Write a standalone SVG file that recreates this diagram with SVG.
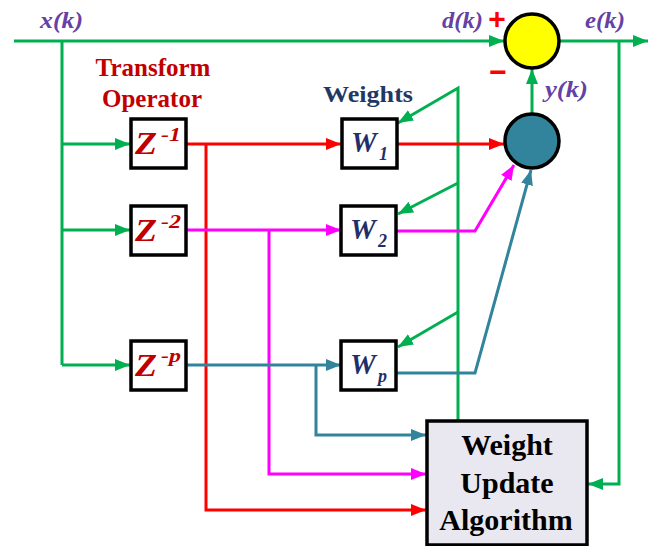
<svg xmlns="http://www.w3.org/2000/svg" width="656" height="546" viewBox="0 0 656 546">
<defs>
<style>
.g{stroke:#00B050;stroke-width:3;fill:none}
.r{stroke:#FF0000;stroke-width:3;fill:none}
.m{stroke:#FF00FF;stroke-width:3;fill:none}
.t{stroke:#31849B;stroke-width:3;fill:none}
.box{fill:#FFFFFF;stroke:#000000;stroke-width:3.5}
.sig{font-family:"Liberation Serif",serif;font-style:italic;font-weight:bold;font-size:23px;fill:#6441A5}
.zl{font-family:"Liberation Serif",serif;font-style:italic;font-weight:bold;fill:#C00000}
.wl{font-family:"Liberation Serif",serif;font-style:italic;font-weight:bold;fill:#1F2F6B}
.lbl{font-family:"Liberation Serif",serif;font-weight:bold}
</style>
<marker id="ag" viewBox="0 0 15 12" refX="15" refY="6" markerWidth="15" markerHeight="12" markerUnits="userSpaceOnUse" orient="auto"><path d="M0,0 L15,6 L0,12 z" fill="#00B050"/></marker>
<marker id="ar" viewBox="0 0 15 12" refX="15" refY="6" markerWidth="15" markerHeight="12" markerUnits="userSpaceOnUse" orient="auto"><path d="M0,0 L15,6 L0,12 z" fill="#FF0000"/></marker>
<marker id="am" viewBox="0 0 15 12" refX="15" refY="6" markerWidth="15" markerHeight="12" markerUnits="userSpaceOnUse" orient="auto"><path d="M0,0 L15,6 L0,12 z" fill="#FF00FF"/></marker>
<marker id="at" viewBox="0 0 15 12" refX="15" refY="6" markerWidth="15" markerHeight="12" markerUnits="userSpaceOnUse" orient="auto"><path d="M0,0 L15,6 L0,12 z" fill="#31849B"/></marker>
</defs>
<rect width="656" height="546" fill="#FFFFFF"/>

<g id="connectors">
<path class="g" d="M14,41 H504" marker-end="url(#ag)"/>
<path class="g" d="M62,41 V365"/>
<path class="g" d="M62,144 H130" marker-end="url(#ag)"/>
<path class="g" d="M62,230 H130" marker-end="url(#ag)"/>
<path class="g" d="M62,365 H130" marker-end="url(#ag)"/>
<path class="g" d="M559,41 H648" marker-end="url(#ag)"/>
<path class="g" d="M619,41 V484 H588" marker-end="url(#ag)"/>
<path class="g" d="M532,114 V69" marker-end="url(#ag)"/>
<path class="g" d="M458,421 V88 L398,123" marker-end="url(#ag)"/>
<path class="g" d="M458,183 L398,214" marker-end="url(#ag)"/>
<path class="g" d="M458,312 L398,347" marker-end="url(#ag)"/>
<path class="r" d="M187,144 H341" marker-end="url(#ar)"/>
<path class="r" d="M206,144 V510 H426" marker-end="url(#ar)"/>
<path class="r" d="M397,144 H504" marker-end="url(#ar)"/>
<path class="m" d="M187,230 H341" marker-end="url(#am)"/>
<path class="m" d="M269,230 V474 H426" marker-end="url(#am)"/>
<path class="m" d="M396,231 H475 L514,165" marker-end="url(#am)"/>
<path class="t" d="M187,365 H341" marker-end="url(#at)"/>
<path class="t" d="M316,365 V435 H426" marker-end="url(#at)"/>
<path class="t" d="M396,373 H475 L531,170" marker-end="url(#at)"/>
</g>

<g id="z1">
<rect class="box" x="131" y="119" width="55" height="49"/>
<text class="zl" x="135" y="154" font-size="31" textLength="22" lengthAdjust="spacingAndGlyphs">Z</text>
<text class="zl" x="161" y="141" font-size="18" textLength="20" lengthAdjust="spacingAndGlyphs">-1</text>
</g>
<g id="z2">
<rect class="box" x="131" y="206" width="55" height="49"/>
<text class="zl" x="135" y="241" font-size="31" textLength="22" lengthAdjust="spacingAndGlyphs">Z</text>
<text class="zl" x="161" y="228" font-size="18" textLength="20" lengthAdjust="spacingAndGlyphs">-2</text>
</g>
<g id="zp">
<rect class="box" x="131" y="341" width="55" height="49"/>
<text class="zl" x="135" y="376" font-size="31" textLength="22" lengthAdjust="spacingAndGlyphs">Z</text>
<text class="zl" x="161" y="362" font-size="18" textLength="20" lengthAdjust="spacingAndGlyphs">-p</text>
</g>

<g id="w1">
<rect class="box" x="342" y="119" width="55" height="49"/>
<text class="wl" x="351" y="152" font-size="29">W</text>
<text class="wl" x="379" y="160" font-size="18">1</text>
</g>
<g id="w2">
<rect class="box" x="341" y="206" width="55" height="49"/>
<text class="wl" x="350" y="239" font-size="29">W</text>
<text class="wl" x="378" y="247" font-size="18">2</text>
</g>
<g id="wp">
<rect class="box" x="341" y="341" width="55" height="49"/>
<text class="wl" x="350" y="374" font-size="29">W</text>
<text class="wl" x="378" y="382" font-size="18">p</text>
</g>

<g id="error-sum">
<circle cx="532" cy="41" r="27" fill="#FFFF00" stroke="#000000" stroke-width="3.5"/>
</g>
<g id="output-sum">
<circle cx="532" cy="141" r="27" fill="#31849B" stroke="#000000" stroke-width="3.5"/>
</g>

<g id="weight-update">
<rect x="427" y="421" width="160" height="124" fill="#E9E8F0" stroke="#000000" stroke-width="3.5"/>
<text class="lbl" x="507" y="455" font-size="30" text-anchor="middle" fill="#000000">Weight</text>
<text class="lbl" x="507" y="493" font-size="30" text-anchor="middle" fill="#000000">Update</text>
<text class="lbl" x="506" y="530" font-size="30" text-anchor="middle" fill="#000000">Algorithm</text>
</g>

<g id="labels">
<text class="sig" x="40" y="28" textLength="43" lengthAdjust="spacingAndGlyphs">x(k)</text>
<text class="sig" x="442" y="28" textLength="41" lengthAdjust="spacingAndGlyphs">d(k)</text>
<text class="sig" x="585" y="28" textLength="40" lengthAdjust="spacingAndGlyphs">e(k)</text>
<text class="sig" x="545" y="97" textLength="43" lengthAdjust="spacingAndGlyphs">y(k)</text>
<text x="497" y="29" font-family="Liberation Sans, sans-serif" font-weight="bold" font-size="30" fill="#FF0000" text-anchor="middle">+</text>
<text x="498" y="82" font-family="Liberation Sans, sans-serif" font-weight="bold" font-size="30" fill="#FF0000" text-anchor="middle">−</text>
<text class="lbl" x="153" y="76" font-size="25" text-anchor="middle" fill="#C00000">Transform</text>
<text class="lbl" x="152" y="107" font-size="25" text-anchor="middle" fill="#C00000">Operator</text>
<text class="lbl" x="323" y="102" font-size="23" textLength="90" lengthAdjust="spacingAndGlyphs" fill="#1F3864">Weights</text>
</g>
</svg>
